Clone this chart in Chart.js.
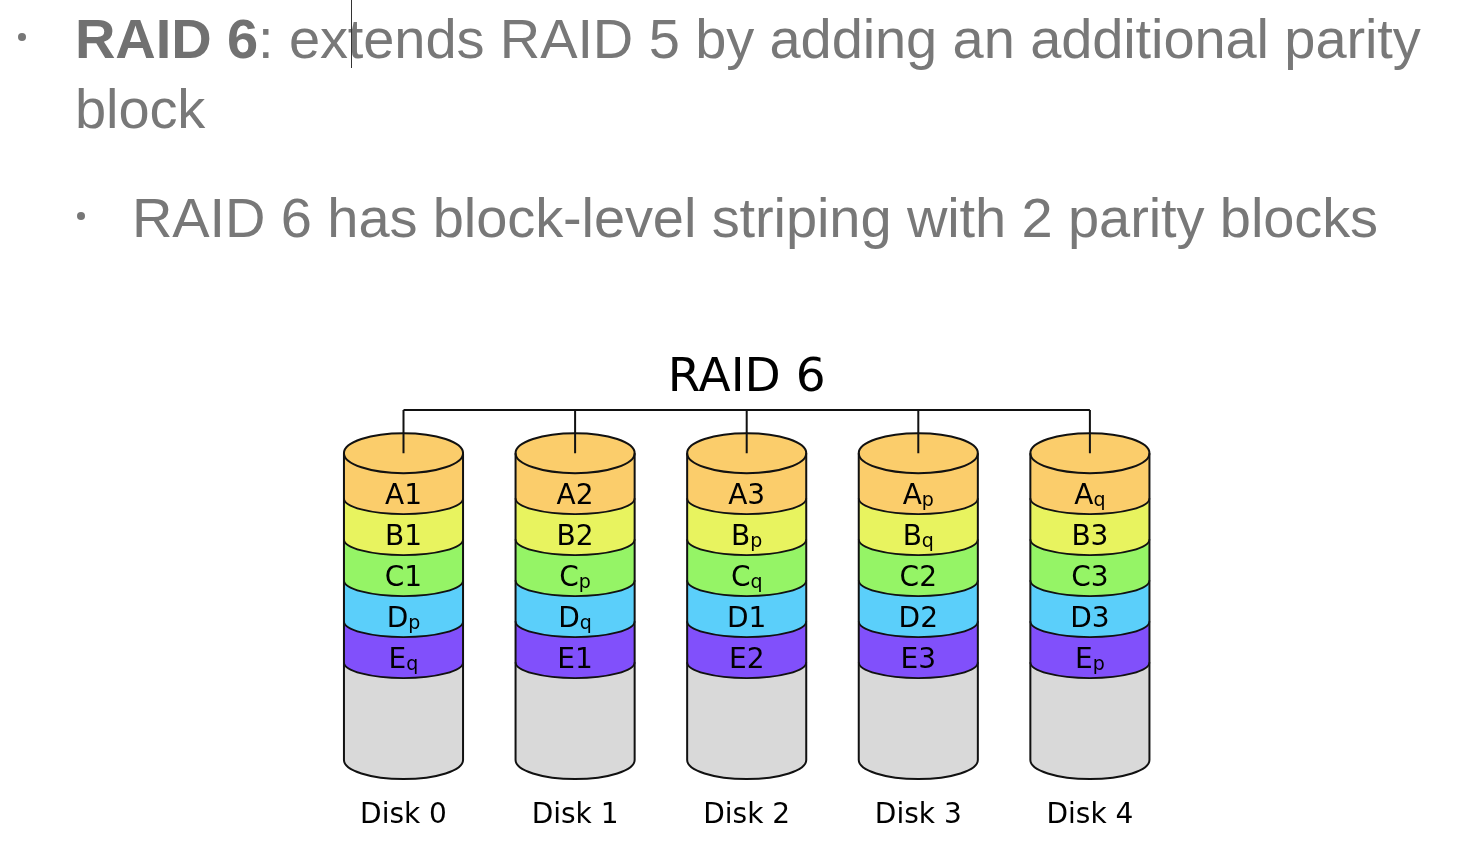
<!DOCTYPE html>
<html>
<head>
<meta charset="utf-8">
<script src="https://cdn.jsdelivr.net/npm/chart.js@4.4.1/dist/chart.umd.min.js"></script>
<style>
  html, body { margin: 0; padding: 0; background: #fff; }
  body { width: 1482px; height: 858px; position: relative; overflow: hidden; }
  .line {
    position: absolute;
    font-family: "Liberation Sans", Arial, sans-serif;
    font-size: 56px;
    line-height: 70px;
    letter-spacing: -0.1px;
    color: #787878;
    white-space: nowrap;
  }
  .line b { font-weight: bold; color: #717171; }
  .dot { position: absolute; width: 8px; height: 8px; border-radius: 50%; background: #777; }
  .caret { position: absolute; left: 351px; top: 0; width: 1px; height: 68px; background: #333; }
  #wrap { position: absolute; left: 0; top: 0; width: 1482px; height: 858px; }
</style>
</head>
<body>
<div class="dot" style="left:18px;top:33px"></div>
<div class="line" style="left:75px;top:4px"><b>RAID 6</b>: extends RAID 5 by adding an additional parity<br>block</div>
<div class="caret"></div>
<div class="dot" style="left:77px;top:212px"></div>
<div class="line" style="left:132px;top:183px">RAID 6 has block-level striping with 2 parity blocks</div>
<div id="wrap"><canvas id="raid"></canvas></div>
<script>
// disks and what each one holds, top stripe first
const disks = ['Disk 0', 'Disk 1', 'Disk 2', 'Disk 3', 'Disk 4']
const blocksA = ['A1', 'A2', 'A3', 'Ap', 'Aq']
const blocksB = ['B1', 'B2', 'Bp', 'Bq', 'B3']
const blocksC = ['C1', 'Cp', 'Cq', 'C2', 'C3']
const blocksD = ['Dp', 'Dq', 'D1', 'D2', 'D3']
const blocksE = ['Eq', 'E1', 'E2', 'E3', 'Ep']
const blockSize = [1, 1, 1, 1, 1]
const freeSpace = [2.46, 2.46, 2.46, 2.46, 2.46]

const colors = {
  A: '#fbcd6b',
  B: '#e8f35f',
  C: '#95f466',
  D: '#5bcffa',
  E: '#8150fb',
  free: '#d9d9d9'
}

const RY_TOP = 20
const RY_BAND = 16
const RY_BOTTOM = 19
const FONT = '"DejaVu Sans", sans-serif'

function bandPath(ctx, cx, rx, yTop, ryT, yBot, ryB) {
  ctx.beginPath()
  ctx.ellipse(cx, yTop - ryT, rx, ryT, 0, 0, Math.PI, false)
  ctx.lineTo(cx - rx, yBot - ryB)
  ctx.ellipse(cx, yBot - ryB, rx, ryB, 0, Math.PI, 0, true)
  ctx.closePath()
}

function drawBlockLabel(ctx, text, cx, cy) {
  const main = text[0]
  const rest = text.slice(1)
  const base = cy + 10
  ctx.fillStyle = '#000'
  ctx.textBaseline = 'alphabetic'
  ctx.textAlign = 'left'
  if (rest === 'p' || rest === 'q') {
    ctx.font = '28px ' + FONT
    const w1 = ctx.measureText(main).width
    ctx.font = '19px ' + FONT
    const w2 = ctx.measureText(rest).width
    const x0 = cx - (w1 + w2) / 2
    ctx.font = '28px ' + FONT
    ctx.fillText(main, x0, base)
    ctx.font = '19px ' + FONT
    ctx.fillText(rest, x0 + w1, base + 2)
  } else {
    ctx.font = '28px ' + FONT
    const w = ctx.measureText(text).width
    ctx.fillText(text, cx - w / 2, base)
  }
}

const cylinderPlugin = {
  id: 'cylinders',
  afterDatasetsDraw(chart) {
    const ctx = chart.ctx
    const n = chart.data.labels.length
    const count = chart.data.datasets.length
    ctx.save()
    ctx.lineJoin = 'round'
    const tops = []
    for (let i = 0; i < n; i++) {
      // bands from bottom (free space) up to stripe A
      const bands = []
      for (let d = 0; d < count; d++) {
        const el = chart.getDatasetMeta(d).data[i]
        const p = el.getProps(['x', 'y', 'base', 'width'], true)
        bands.push({ p, ds: chart.data.datasets[d] })
      }
      const cx = bands[0].p.x
      const rx = bands[0].p.width / 2
      const last = bands.length - 1
      bands.forEach((b, k) => {
        const ryT = k === last ? RY_TOP : RY_BAND
        const ryB = k === 0 ? RY_BOTTOM : RY_BAND
        bandPath(ctx, cx, rx, b.p.y, ryT, b.p.base, ryB)
        ctx.fillStyle = b.ds.fillColor
        ctx.fill()
      })
      const topY = bands[last].p.y
      const botY = bands[0].p.base
      // top face
      ctx.beginPath()
      ctx.ellipse(cx, topY - RY_TOP, rx, RY_TOP, 0, 0, Math.PI * 2)
      ctx.fillStyle = bands[last].ds.fillColor
      ctx.fill()
      ctx.strokeStyle = '#111'
      ctx.lineWidth = 2
      ctx.stroke()
      // band boundaries
      ctx.lineWidth = 1.8
      bands.forEach((b, k) => {
        if (k === 0) return
        ctx.beginPath()
        ctx.ellipse(cx, b.p.base - RY_BAND, rx, RY_BAND, 0, 0, Math.PI, false)
        ctx.stroke()
      })
      // sides and bottom
      ctx.lineWidth = 2
      ctx.beginPath()
      ctx.moveTo(cx - rx, topY - RY_TOP)
      ctx.lineTo(cx - rx, botY - RY_BOTTOM)
      ctx.ellipse(cx, botY - RY_BOTTOM, rx, RY_BOTTOM, 0, Math.PI, 0, true)
      ctx.lineTo(cx + rx, topY - RY_TOP)
      ctx.stroke()
      // labels
      bands.forEach(b => {
        if (!b.ds.blocks) return
        drawBlockLabel(ctx, b.ds.blocks[i], cx, (b.p.y + b.p.base) / 2)
      })
      tops.push({ x: cx, y: topY - RY_TOP })
    }
    // connector from the controller to each disk
    const lineY = chart.chartArea.top
    ctx.strokeStyle = '#111'
    ctx.lineWidth = 2
    ctx.beginPath()
    ctx.moveTo(tops[0].x, lineY)
    ctx.lineTo(tops[tops.length - 1].x, lineY)
    tops.forEach(t => {
      ctx.moveTo(t.x, lineY)
      ctx.lineTo(t.x, t.y)
    })
    ctx.stroke()
    ctx.restore()
  }
}

function band(label, data, fillColor, blocks) {
  return {
    label,
    data,
    fillColor,
    blocks,
    backgroundColor: 'rgba(0,0,0,0)',
    borderWidth: 0,
    barPercentage: 0.694,
    categoryPercentage: 1
  }
}

new Chart(document.getElementById('raid'), {
  type: 'bar',
  data: {
    labels: disks,
    datasets: [
      band('free', freeSpace, colors.free, null),
      band('E', blockSize, colors.E, blocksE),
      band('D', blockSize, colors.D, blocksD),
      band('C', blockSize, colors.C, blocksC),
      band('B', blockSize, colors.B, blocksB),
      band('A', blockSize, colors.A, blocksA)
    ]
  },
  options: {
    responsive: true,
    maintainAspectRatio: false,
    animation: false,
    layout: { padding: { top: 351, left: 317.7, right: 306.3, bottom: 0 } },
    plugins: {
      legend: { display: false },
      tooltip: { enabled: false },
      title: {
        display: true,
        text: 'RAID 6',
        color: '#000',
        font: { family: FONT, size: 47, weight: 'normal', lineHeight: 1.2 },
        padding: { top: 0, bottom: 2.6 }
      }
    },
    scales: {
      x: {
        stacked: true,
        grid: { display: false, drawTicks: false },
        border: { display: false },
        ticks: { color: '#000', padding: 20, font: { family: FONT, size: 28 } },
        afterFit(scale) { scale.height = 79 }
      },
      y: {
        stacked: true,
        display: false,
        min: 0,
        max: 9
      }
    }
  },
  plugins: [cylinderPlugin]
})
</script>
</body>
</html>
